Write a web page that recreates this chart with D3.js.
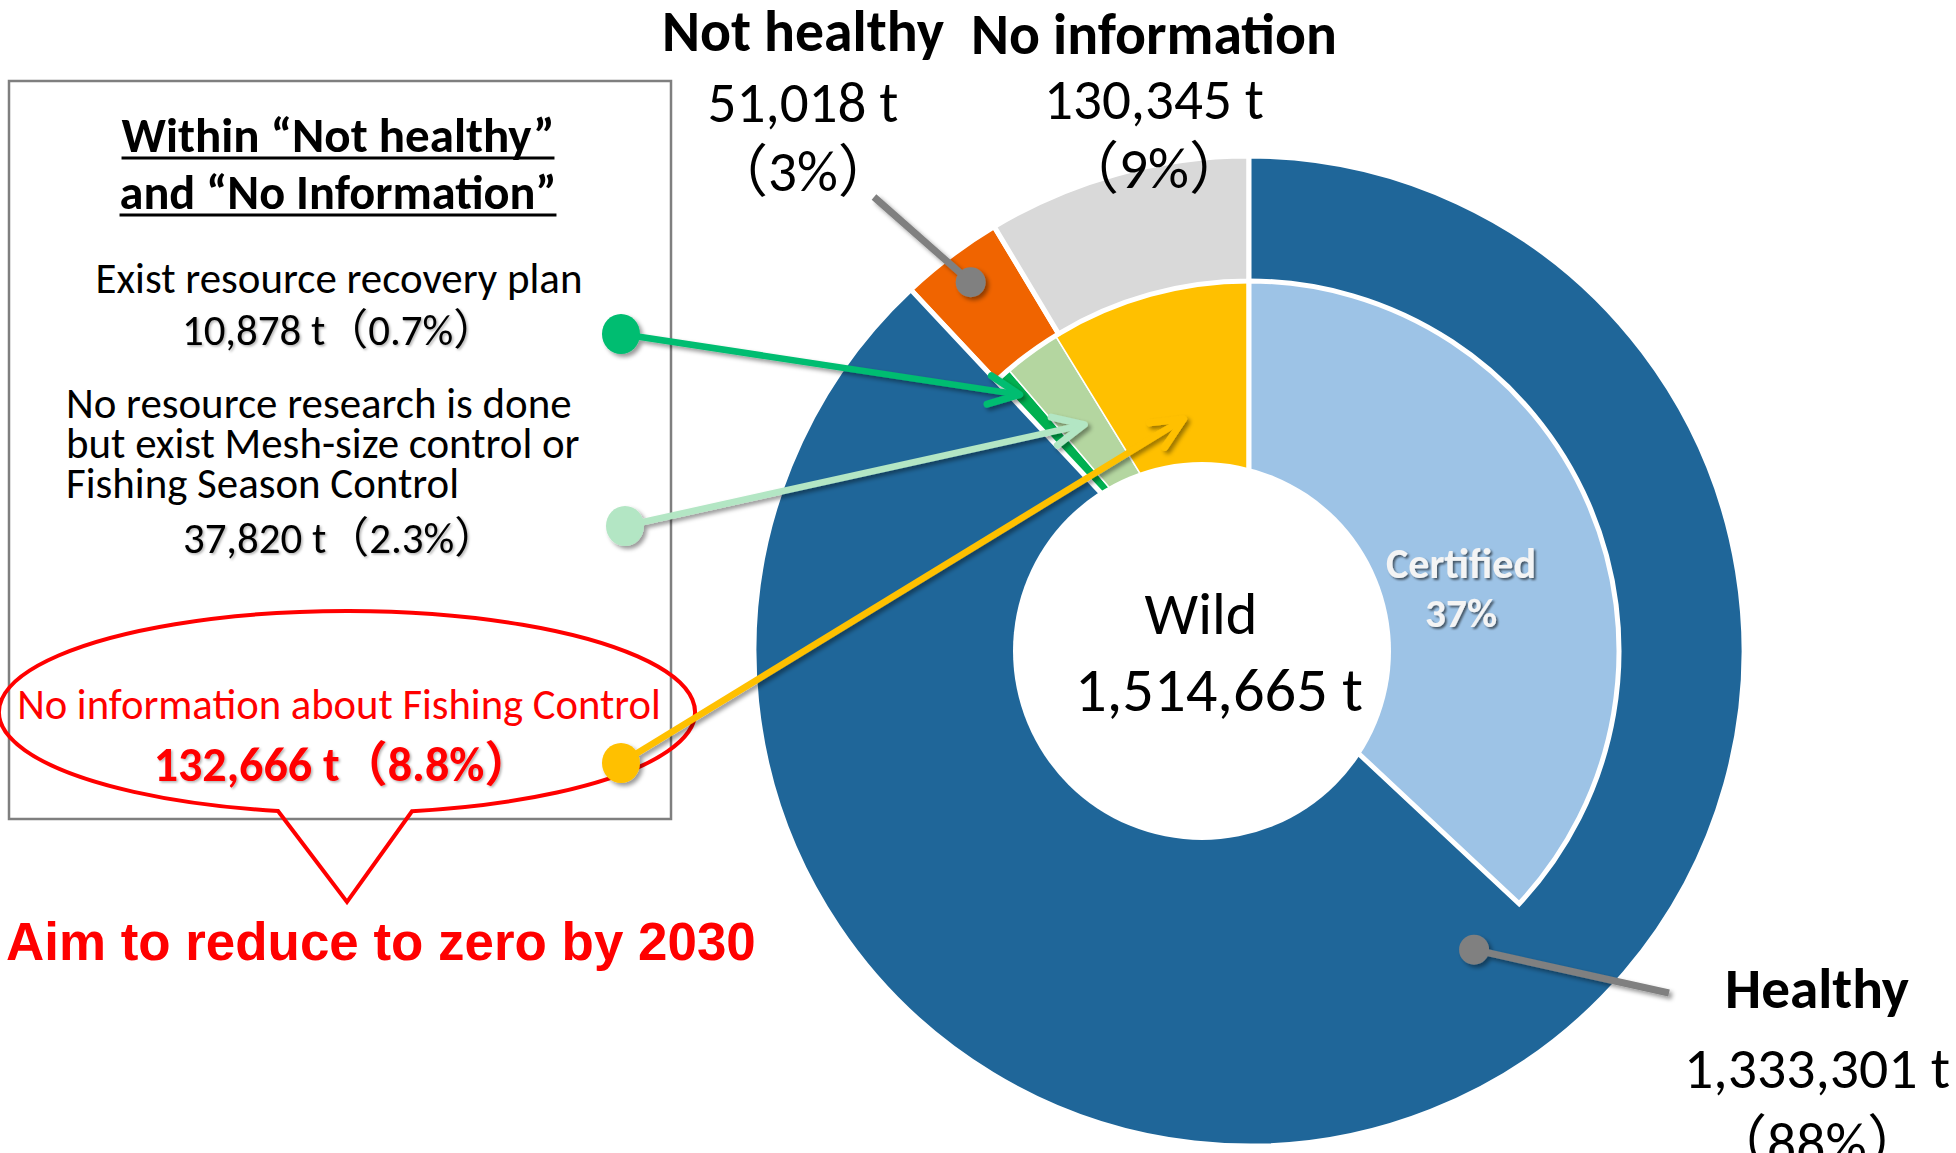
<!DOCTYPE html>
<meta charset="utf-8">
<script src="https://d3js.org/d3.v7.min.js"></script>
<style>
  body { margin: 0; background: #fff; }
</style>
<div id="chart"></div>
<script>
// ---- data ----
// outer ring: stock status of the wild catch (tonnes)
var statusNames = ["Healthy", "Not healthy", "No information"];
var statusTonnes = [1333301, 51018, 130345];
var statusShares = ["88%", "3%", "9%"];

// inner ring: certified part of "Healthy" and the split of "Not healthy" + "No information"
var detailNames = ["Certified", "Healthy (not certified)", "Exist resource recovery plan",
  "Mesh-size or season control", "No information about Fishing Control"];
var detailTonnes = [560000, 773301, 10878, 37820, 132666];
var detailShares = ["37%", "", "0.7%", "2.3%", "8.8%"];

var wildTotal = 1514665;

// ---- layout ----
var W = 1956, H = 1153;
var cx = 1249, cy = 651, R = 495, r1 = 370;
var textFont = "Carlito, Calibri, Lato, 'Noto Sans CJK JP', sans-serif";
var fmt = d3.format(",");

var statusColors = ["#1F6699", "#F06400", "#D9D9D9"];
var detailColors = ["#9DC3E6", "#1F6699", "#00B050", "#B4D6A0", "#FFC000"];
var calloutColors = [null, null, "#00BD71", "#B3E6C4", "#FFC000"];

var svg = d3.select("#chart").append("svg")
  .attr("width", W)
  .attr("height", H);

var defs = svg.append("defs");
function shadowFilter(id, dx, blur, op) {
  var f = defs.append("filter").attr("id", id)
    .attr("filterUnits", "userSpaceOnUse")
    .attr("x", 0).attr("y", 0).attr("width", W).attr("height", H);
  f.append("feDropShadow").attr("dx", dx).attr("dy", dx)
    .attr("stdDeviation", blur).attr("flood-color", "#000").attr("flood-opacity", op);
}
shadowFilter("shadow", 3, 2, 0.4);
shadowFilter("textShadow", 1.5, 1, 0.3);
shadowFilter("whiteTextShadow", 2, 1.2, 0.55);

function addText(g, str, x, y, o) {
  var size = o.size || 40;
  var t = g.append("text")
    .attr("x", x).attr("y", y)
    .attr("text-anchor", o.anchor || "middle")
    .attr("font-size", size)
    .attr("font-weight", o.bold ? "bold" : "normal")
    .attr("fill", o.color || "#000")
    .style("font-family", o.family || textFont)
    .text(str);
  if (o.width) {
    var len = t.node().getComputedTextLength();
    t.attr("font-size", size * o.width / len);
  }
  if (o.filter) t.attr("filter", o.filter);
  return t;
}

function polar(a, r) {
  return [cx + r * Math.sin(a), cy - r * Math.cos(a)];
}

// ---- rings ----
var pie = d3.pie().sort(null).value(function (d) { return d; });
var outerArcs = pie(statusTonnes);
var innerArcs = pie(detailTonnes);

var outerArc = d3.arc()
  .outerRadius(R)
  .innerRadius(function (d) { return d.index === 0 ? 0 : r1; });
var innerArc = d3.arc().innerRadius(0).outerRadius(r1);

var rings = svg.append("g")
  .attr("transform", "translate(" + cx + "," + cy + ")");

// inner pieces of "Not healthy" + "No information"
rings.selectAll("path.inner")
  .data(innerArcs.filter(function (d) { return d.index >= 2; }))
  .enter().append("path")
  .attr("class", "inner")
  .attr("d", innerArc)
  .attr("fill", function (d) { return detailColors[d.index]; })
  .attr("stroke", "#fff")
  .attr("stroke-width", 1.5);

// outer ring: "Healthy" fills down to the centre, the others sit in the outer band
rings.selectAll("path.outer")
  .data(outerArcs.slice(1).concat([outerArcs[0]]))
  .enter().append("path")
  .attr("class", "outer")
  .attr("d", outerArc)
  .attr("fill", function (d) { return statusColors[d.index]; })
  .attr("stroke", "#fff")
  .attr("stroke-width", 5)
  .attr("stroke-linejoin", "round");

// certified slice
rings.append("path")
  .datum(innerArcs[0])
  .attr("d", innerArc)
  .attr("fill", detailColors[0])
  .attr("stroke", "#fff")
  .attr("stroke-width", 5);

// centre hole with total
svg.append("circle")
  .attr("cx", cx - 47).attr("cy", cy).attr("r", 189)
  .attr("fill", "#fff");
addText(svg, "Wild", 1201, 634, { width: 113, size: 60 });
addText(svg, fmt(wildTotal) + " t", 1219, 711, { width: 288, size: 60 });

// certified label
addText(svg, detailNames[0], 1461, 578, { width: 150, size: 40, bold: true, color: "#F4F4F4", filter: "url(#whiteTextShadow)" });
addText(svg, detailShares[0], 1461, 627, { width: 72, size: 40, bold: true, color: "#F4F4F4", filter: "url(#whiteTextShadow)" });

// ---- status labels with grey leaders ----
function greyLeader(anchor, end) {
  var g = svg.append("g").attr("filter", "url(#shadow)");
  g.append("line")
    .attr("x1", anchor[0]).attr("y1", anchor[1])
    .attr("x2", end[0]).attr("y2", end[1])
    .attr("stroke", "#808080").attr("stroke-width", 7);
  g.append("circle")
    .attr("cx", anchor[0]).attr("cy", anchor[1]).attr("r", 15)
    .attr("fill", "#808080");
}

var nh = outerArcs[1];
greyLeader(polar((nh.startAngle + nh.endAngle) / 2, 462), [874, 197]);
greyLeader(polar(143 * Math.PI / 180, 374), [1669, 993]);

var statusLabelPos = [
  { x: 1817, title: 1008, value: 1088, share: 1163, tw: 184, vw: 266 },
  { x: 803, title: 51, value: 122, share: 191, tw: 282, vw: 191 },
  { x: 1154, title: 54, value: 119, share: 188, tw: 366, vw: 220 }
];
statusNames.forEach(function (name, i) {
  var p = statusLabelPos[i];
  addText(svg, name, p.x, p.title, { width: p.tw, size: 56, bold: true });
  var v = addText(svg, fmt(statusTonnes[i]) + " t", p.x, p.value, { width: p.vw, size: 56 });
  addText(svg, "（" + statusShares[i] + "）", p.x, p.share, { size: +v.attr("font-size") });
});

// ---- left panel ----
var panel = svg.append("g");
panel.append("rect")
  .attr("x", 9).attr("y", 81).attr("width", 662).attr("height", 738)
  .attr("fill", "none").attr("stroke", "#7F7F7F").attr("stroke-width", 2.5);

var titleLines = ["Within “Not healthy”", "and “No Information”"];
var titleY = [152, 209];
titleLines.forEach(function (s, i) {
  var t = addText(panel, s, 338, titleY[i], { width: i === 0 ? 433 : 437, size: 46, bold: true });
  var bb = t.node().getBBox();
  panel.append("line")
    .attr("x1", bb.x).attr("x2", bb.x + bb.width)
    .attr("y1", titleY[i] + 6).attr("y2", titleY[i] + 6)
    .attr("stroke", "#000").attr("stroke-width", 3);
});

var e1 = addText(panel, detailNames[2], 339, 293, { width: 487, size: 40 });
var boxSize = +e1.attr("font-size");
addText(panel, fmt(detailTonnes[2]) + " t（" + detailShares[2] + "）", 339, 345, { size: boxSize, filter: "url(#textShadow)" });

["No resource research is done", "but exist Mesh-size control or", "Fishing Season Control"]
  .forEach(function (s, i) {
    addText(panel, s, 66, 418 + i * 40, { size: boxSize, anchor: "start" });
  });
addText(panel, fmt(detailTonnes[3]) + " t（" + detailShares[3] + "）", 340, 553, { size: boxSize, filter: "url(#textShadow)" });

var red = "#FF0000";
addText(panel, detailNames[4], 339, 719, { width: 644, size: 40, color: red });
addText(panel, fmt(detailTonnes[4]) + " t（" + detailShares[4] + "）", 343, 781,
  { size: boxSize * 1.12, bold: true, color: red, filter: "url(#textShadow)" });

// speech bubble around the last item
var ex = 347, ey = 712, erx = 348, ery = 101;
function ellipseY(x) { return ey + ery * Math.sqrt(1 - Math.pow((x - ex) / erx, 2)); }
var ax = 278, bx = 412;
panel.append("path")
  .attr("d", "M" + ax + "," + ellipseY(ax) +
    " A" + erx + "," + ery + " 0 1 1 " + bx + "," + ellipseY(bx) +
    " L347,902 Z")
  .attr("fill", "none")
  .attr("stroke", red)
  .attr("stroke-width", 4)
  .attr("stroke-linejoin", "miter");

addText(svg, "Aim to reduce to zero by 2030", 6, 960,
  { anchor: "start", width: 750, size: 52, bold: true, color: red, family: "'Liberation Sans', Arial, sans-serif" });

// ---- coloured callout arrows ----
var dotPos = { 2: [621, 334], 3: [625, 526], 4: [621, 763] };
var tipRadius = { 2: 344, 3: 280, 4: 241 };
[2, 3, 4].forEach(function (i) {
  var d = innerArcs[i];
  var tip = polar((d.startAngle + d.endAngle) / 2, tipRadius[i]);
  var start = dotPos[i];
  var ang = Math.atan2(tip[1] - start[1], tip[0] - start[0]);
  var g = svg.append("g").attr("filter", "url(#shadow)");
  var col = calloutColors[i];
  g.append("line")
    .attr("x1", start[0]).attr("y1", start[1])
    .attr("x2", tip[0]).attr("y2", tip[1])
    .attr("stroke", col).attr("stroke-width", 6.5);
  var arm = 34, spread = 25 * Math.PI / 180;
  var p1 = [tip[0] - arm * Math.cos(ang - spread), tip[1] - arm * Math.sin(ang - spread)];
  var p2 = [tip[0] - arm * Math.cos(ang + spread), tip[1] - arm * Math.sin(ang + spread)];
  g.append("path")
    .attr("d", "M" + p1 + " L" + tip + " L" + p2)
    .attr("fill", "none").attr("stroke", col)
    .attr("stroke-width", 7).attr("stroke-linecap", "round").attr("stroke-linejoin", "round");
  g.append("ellipse")
    .attr("cx", start[0]).attr("cy", start[1]).attr("rx", 19).attr("ry", 20)
    .attr("fill", col);
});
</script>
